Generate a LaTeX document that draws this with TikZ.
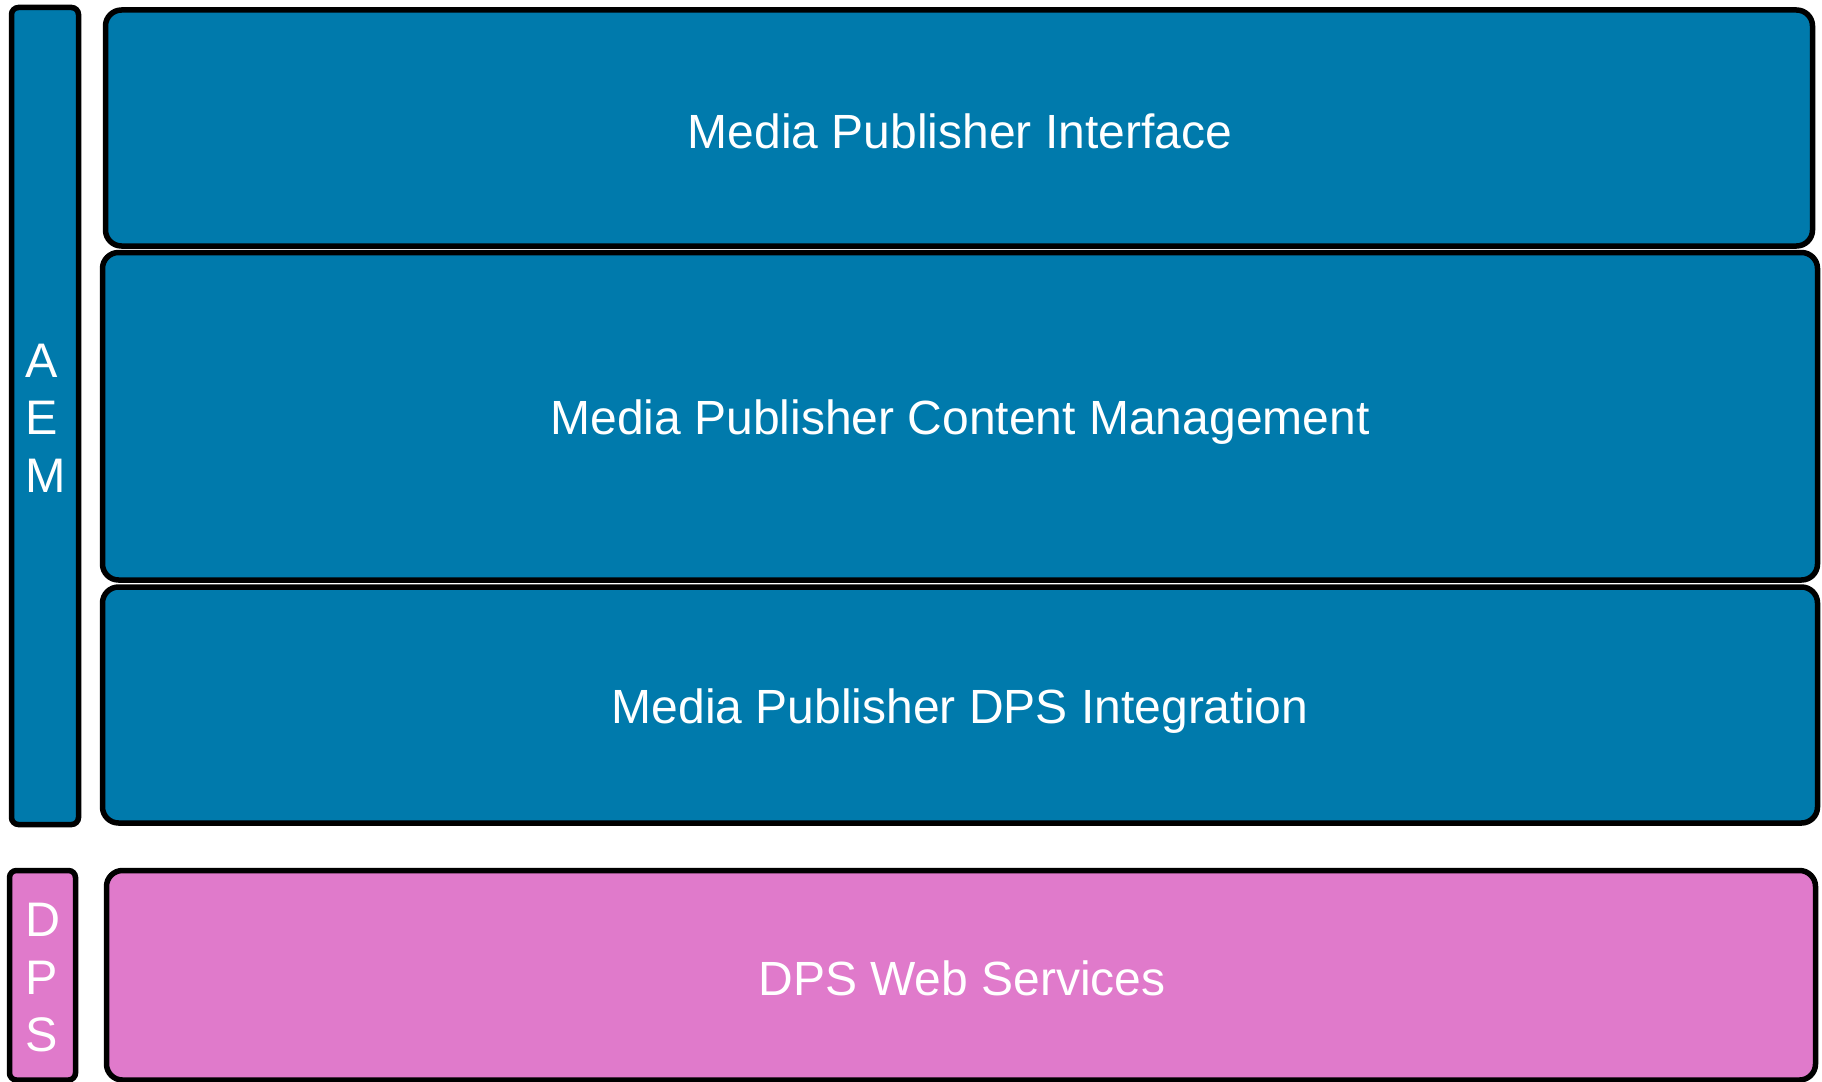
\documentclass[tikz,border=0pt]{standalone}
\usepackage{fontspec}
\setmainfont{Liberation Sans}
\definecolor{aemblue}{RGB}{0,122,172}
\definecolor{dpspink}{RGB}{224,122,203}
\begin{document}
\begin{tikzpicture}[x=1pt,y=-1pt,
  layer/.style={draw=black,line width=5.5pt,rounded corners=16pt},
  sidebar/.style={draw=black,line width=5.5pt,rounded corners=7pt},
  lbl/.style={text=white,font=\fontsize{48}{57.5}\selectfont},
  side/.style={text=white,font=\fontsize{48.5}{57.5}\selectfont,align=left,anchor=west,inner sep=0pt}]
\useasboundingbox (0,0) rectangle (1822,1081);
% AEM
\draw[sidebar,fill=aemblue] (11.5,7.5) rectangle (78.5,824.5);
\draw[layer,fill=aemblue] (102.5,252.5) rectangle (1817.5,580);
\draw[layer,fill=aemblue] (105.5,10) rectangle (1812.5,246);
\draw[layer,fill=aemblue] (102.5,587) rectangle (1817.5,823);
\node[lbl] (iface) at (960,131) {Media Publisher Interface};
\node[lbl] (cm) at (960,422) {Media Publisher Content Management};
\node[lbl] (dpsi) at (960,711) {Media Publisher DPS Integration};
\node[side] (aem) at (25,418) {A\\E\\M};
% DPS
\draw[sidebar,fill=dpspink] (9.5,870.5) rectangle (75.5,1080);
\draw[layer,fill=dpspink] (106.5,870.5) rectangle (1815.5,1080);
\node[lbl] (ws) at (962,978) {DPS Web Services};
\node[side] (dps) at (25,978) {D\\P\\S};
\end{tikzpicture}
\end{document}
